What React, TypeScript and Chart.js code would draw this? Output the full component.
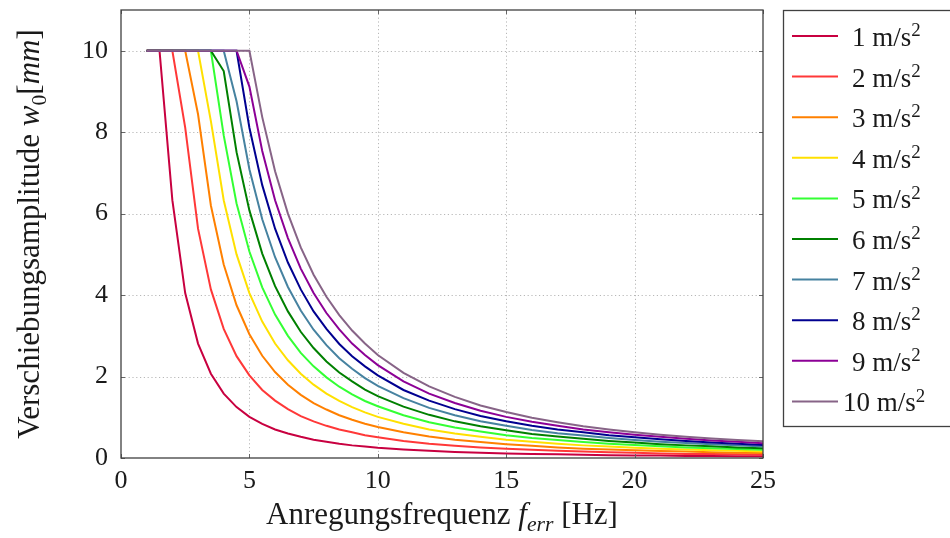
import React, { useEffect, useRef } from "react";
import { Chart, registerables } from "chart.js";

Chart.register(...registerables);

const FREQ = [1, 1.5, 2, 2.5, 3, 3.5, 4, 4.5, 5, 5.5, 6, 6.5, 7, 7.5, 8, 8.5, 9, 9.5, 10, 11, 12, 13, 14, 15, 16, 17, 18, 19, 20, 21, 22, 23, 24, 25];

const ACC_LABELS = ["1", "2", "3", "4", "5", "6", "7", "8", "9", "10"];

const W_1 = [10, 10, 6.33, 4.05, 2.81, 2.07, 1.58, 1.25, 1.01, 0.84, 0.70, 0.60, 0.52, 0.45, 0.40, 0.35, 0.31, 0.28, 0.25, 0.21, 0.18, 0.15, 0.13, 0.11, 0.10, 0.09, 0.08, 0.07, 0.06, 0.06, 0.05, 0.05, 0.04, 0.04];
const W_2 = [10, 10, 10, 8.11, 5.63, 4.14, 3.17, 2.50, 2.03, 1.67, 1.41, 1.20, 1.03, 0.90, 0.79, 0.70, 0.63, 0.56, 0.51, 0.42, 0.35, 0.30, 0.26, 0.23, 0.20, 0.18, 0.16, 0.14, 0.13, 0.11, 0.10, 0.10, 0.09, 0.08];
const W_3 = [10, 10, 10, 10, 8.44, 6.20, 4.75, 3.75, 3.04, 2.51, 2.11, 1.80, 1.55, 1.35, 1.19, 1.05, 0.94, 0.84, 0.76, 0.63, 0.53, 0.45, 0.39, 0.34, 0.30, 0.26, 0.23, 0.21, 0.19, 0.17, 0.16, 0.14, 0.13, 0.12];
const W_4 = [10, 10, 10, 10, 10, 8.27, 6.33, 5.00, 4.05, 3.35, 2.81, 2.40, 2.07, 1.80, 1.58, 1.40, 1.25, 1.12, 1.01, 0.84, 0.70, 0.60, 0.52, 0.45, 0.40, 0.35, 0.31, 0.28, 0.25, 0.23, 0.21, 0.19, 0.18, 0.16];
const W_5 = [10, 10, 10, 10, 10, 10, 7.92, 6.25, 5.07, 4.19, 3.52, 3.00, 2.58, 2.25, 1.98, 1.75, 1.56, 1.40, 1.27, 1.05, 0.88, 0.75, 0.65, 0.56, 0.49, 0.44, 0.39, 0.35, 0.32, 0.29, 0.26, 0.24, 0.22, 0.20];
const W_6 = [10, 10, 10, 10, 10, 10, 9.50, 7.51, 6.08, 5.02, 4.22, 3.60, 3.10, 2.70, 2.37, 2.10, 1.88, 1.68, 1.52, 1.26, 1.06, 0.90, 0.78, 0.68, 0.59, 0.53, 0.47, 0.42, 0.38, 0.34, 0.31, 0.29, 0.26, 0.24];
const W_7 = [10, 10, 10, 10, 10, 10, 10, 8.76, 7.09, 5.86, 4.93, 4.20, 3.62, 3.15, 2.77, 2.45, 2.19, 1.96, 1.77, 1.47, 1.23, 1.05, 0.90, 0.79, 0.69, 0.61, 0.55, 0.49, 0.44, 0.40, 0.37, 0.34, 0.31, 0.28];
const W_8 = [10, 10, 10, 10, 10, 10, 10, 10, 8.11, 6.70, 5.63, 4.80, 4.14, 3.60, 3.17, 2.80, 2.50, 2.25, 2.03, 1.67, 1.41, 1.20, 1.03, 0.90, 0.79, 0.70, 0.63, 0.56, 0.51, 0.46, 0.42, 0.38, 0.35, 0.32];
const W_9 = [10, 10, 10, 10, 10, 10, 10, 10, 9.12, 7.54, 6.33, 5.40, 4.65, 4.05, 3.56, 3.16, 2.81, 2.53, 2.28, 1.88, 1.58, 1.35, 1.16, 1.01, 0.89, 0.79, 0.70, 0.63, 0.57, 0.52, 0.47, 0.43, 0.40, 0.36];
const W_10 = [10, 10, 10, 10, 10, 10, 10, 10, 10, 8.37, 7.04, 6.00, 5.17, 4.50, 3.96, 3.51, 3.13, 2.81, 2.53, 2.09, 1.76, 1.50, 1.29, 1.13, 0.99, 0.88, 0.78, 0.70, 0.63, 0.57, 0.52, 0.48, 0.44, 0.41];

const SERIES = [W_1, W_2, W_3, W_4, W_5, W_6, W_7, W_8, W_9, W_10];
const COLORS = ["#c80040", "#ff3838", "#ff8000", "#ffe000", "#33ff33", "#008000", "#4682a0", "#000090", "#8c0096", "#876487"];

const X_TICKS = [0, 5, 10, 15, 20, 25];
const Y_TICKS = [0, 2, 4, 6, 8, 10];

const FONT = '"Liberation Serif", "Times New Roman", serif';

type Run = { t: string; it?: boolean; sub?: boolean; sup?: boolean };

function runFont(r: Run, size: number) {
  const s = r.sub || r.sup ? size * 0.7 : size;
  return `${r.it ? "italic " : ""}${s}px ${FONT}`;
}

function measureRuns(ctx: CanvasRenderingContext2D, runs: Run[], size: number) {
  let w = 0;
  for (const r of runs) {
    ctx.font = runFont(r, size);
    w += ctx.measureText(r.t).width;
  }
  return w;
}

function drawRuns(ctx: CanvasRenderingContext2D, runs: Run[], x: number, y: number, size: number) {
  let cx = x;
  ctx.textBaseline = "alphabetic";
  ctx.textAlign = "left";
  for (const r of runs) {
    ctx.font = runFont(r, size);
    const dy = r.sub ? size * 0.22 : r.sup ? -size * 0.36 : 0;
    ctx.fillText(r.t, cx, y + dy);
    cx += ctx.measureText(r.t).width;
  }
}

const X_TITLE: Run[] = [{ t: "Anregungsfrequenz " }, { t: "f", it: true }, { t: "err", it: true, sub: true }, { t: " [Hz]" }];
const Y_TITLE: Run[] = [{ t: "Verschiebungsamplitude " }, { t: "w", it: true }, { t: "0", sub: true }, { t: "[" }, { t: "mm", it: true }, { t: "]" }];

const decorPlugin = {
  id: "decor",
  beforeDatasetsDraw(chart: any) {
    const { ctx, chartArea: a, scales } = chart;
    const xs = scales.x, ys = scales.y;
    ctx.save();
    ctx.strokeStyle = "#b8b8b8";
    ctx.lineWidth = 1;
    ctx.setLineDash([1.2, 2.6]);
    for (const v of X_TICKS) {
      if (v === 0 || v === 25) continue;
      const px = Math.round(xs.getPixelForValue(v)) + 0.5;
      ctx.beginPath();
      ctx.moveTo(px, a.top);
      ctx.lineTo(px, a.bottom);
      ctx.stroke();
    }
    for (const v of Y_TICKS) {
      if (v === 0) continue;
      const py = Math.round(ys.getPixelForValue(v)) + 0.5;
      ctx.beginPath();
      ctx.moveTo(a.left, py);
      ctx.lineTo(a.right, py);
      ctx.stroke();
    }
    ctx.restore();
  },
  afterDatasetsDraw(chart: any) {
    const { ctx, chartArea: a, scales } = chart;
    const xs = scales.x, ys = scales.y;
    ctx.save();
    // inward ticks
    ctx.strokeStyle = "#666";
    ctx.lineWidth = 1;
    const tl = 4;
    for (const v of X_TICKS) {
      const px = Math.round(xs.getPixelForValue(v)) + 0.5;
      ctx.beginPath();
      ctx.moveTo(px, a.bottom);
      ctx.lineTo(px, a.bottom - tl);
      ctx.moveTo(px, a.top);
      ctx.lineTo(px, a.top + tl);
      ctx.stroke();
    }
    for (const v of Y_TICKS) {
      const py = Math.round(ys.getPixelForValue(v)) + 0.5;
      ctx.beginPath();
      ctx.moveTo(a.left, py);
      ctx.lineTo(a.left + tl, py);
      ctx.moveTo(a.right, py);
      ctx.lineTo(a.right - tl, py);
      ctx.stroke();
    }
    // box
    ctx.strokeStyle = "#404040";
    ctx.lineWidth = 1.3;
    ctx.strokeRect(a.left, a.top, a.right - a.left, a.bottom - a.top);

    // axis titles
    ctx.fillStyle = "#1a1a1a";
    const ts = 31;
    const xw = measureRuns(ctx, X_TITLE, ts);
    drawRuns(ctx, X_TITLE, (a.left + a.right) / 2 - xw / 2, 524, ts);
    const yw = measureRuns(ctx, Y_TITLE, ts);
    ctx.save();
    ctx.translate(39, (a.top + a.bottom) / 2);
    ctx.rotate(-Math.PI / 2);
    drawRuns(ctx, Y_TITLE, -yw / 2, 0, ts);
    ctx.restore();

    // legend
    const lx = 783.5, ly = 10.5, lw = 170, lh = 416;
    ctx.strokeStyle = "#404040";
    ctx.lineWidth = 1.3;
    ctx.strokeRect(lx, ly, lw, lh);
    const ls = 27;
    chart.data.datasets.forEach((ds: any, i: number) => {
      const cy = 36 + i * 40.6;
      ctx.strokeStyle = ds.borderColor;
      ctx.lineWidth = 2;
      ctx.beginPath();
      ctx.moveTo(792, cy);
      ctx.lineTo(838, cy);
      ctx.stroke();
      ctx.fillStyle = "#1a1a1a";
      const runs: Run[] = [{ t: ACC_LABELS[i] + " m/s" }, { t: "2", sup: true }];
      const tx = i === 9 ? 843 : 852;
      drawRuns(ctx, runs, tx, cy + 10, ls);
    });
    ctx.restore();
  },
};

export default function App() {
  const ref = useRef<HTMLCanvasElement | null>(null);
  useEffect(() => {
    document.body.style.margin = "0";
    const canvas = ref.current!;
    const chart = new Chart(canvas, {
      type: "line",
      data: {
        datasets: SERIES.map((s, i) => ({
          label: ACC_LABELS[i] + " m/s²",
          data: FREQ.map((f, j) => ({ x: f, y: s[j] })),
          borderColor: COLORS[i],
          backgroundColor: COLORS[i],
          borderWidth: 2,
          pointRadius: 0,
          tension: 0,
          fill: false,
          order: SERIES.length - i,
        })),
      },
      options: {
        animation: false,
        responsive: false,
        maintainAspectRatio: false,
        devicePixelRatio: 1,
        layout: { padding: { left: 0, right: 187, top: 10, bottom: 0 } },
        plugins: { legend: { display: false }, tooltip: { enabled: false } },
        scales: {
          x: {
            type: "linear",
            min: 0,
            max: 25,
            grid: { display: false, drawTicks: false, tickLength: 0 },
            border: { display: false },
            ticks: {
              stepSize: 5,
              padding: 8,
              color: "#1a1a1a",
              font: { family: FONT, size: 26 },
              maxRotation: 0,
            },
            afterFit: (s: any) => {
              s.height = 80;
              s.paddingLeft = 0;
              s.paddingRight = 0;
            },
          },
          y: {
            type: "linear",
            min: 0,
            max: 11,
            grid: { display: false, drawTicks: false, tickLength: 0 },
            border: { display: false },
            ticks: {
              stepSize: 2,
              includeBounds: false,
              padding: 13,
              color: "#1a1a1a",
              font: { family: FONT, size: 26 },
            },
            afterFit: (s: any) => {
              s.width = 121;
              s.paddingTop = 0;
              s.paddingBottom = 0;
            },
          },
        },
      },
      plugins: [decorPlugin],
    } as any);
    return () => chart.destroy();
  }, []);
  return (
    <div style={{ position: "relative", width: 950, height: 538 }}>
      <canvas ref={ref} width={950} height={538} style={{ display: "block" }} />
    </div>
  );
}
